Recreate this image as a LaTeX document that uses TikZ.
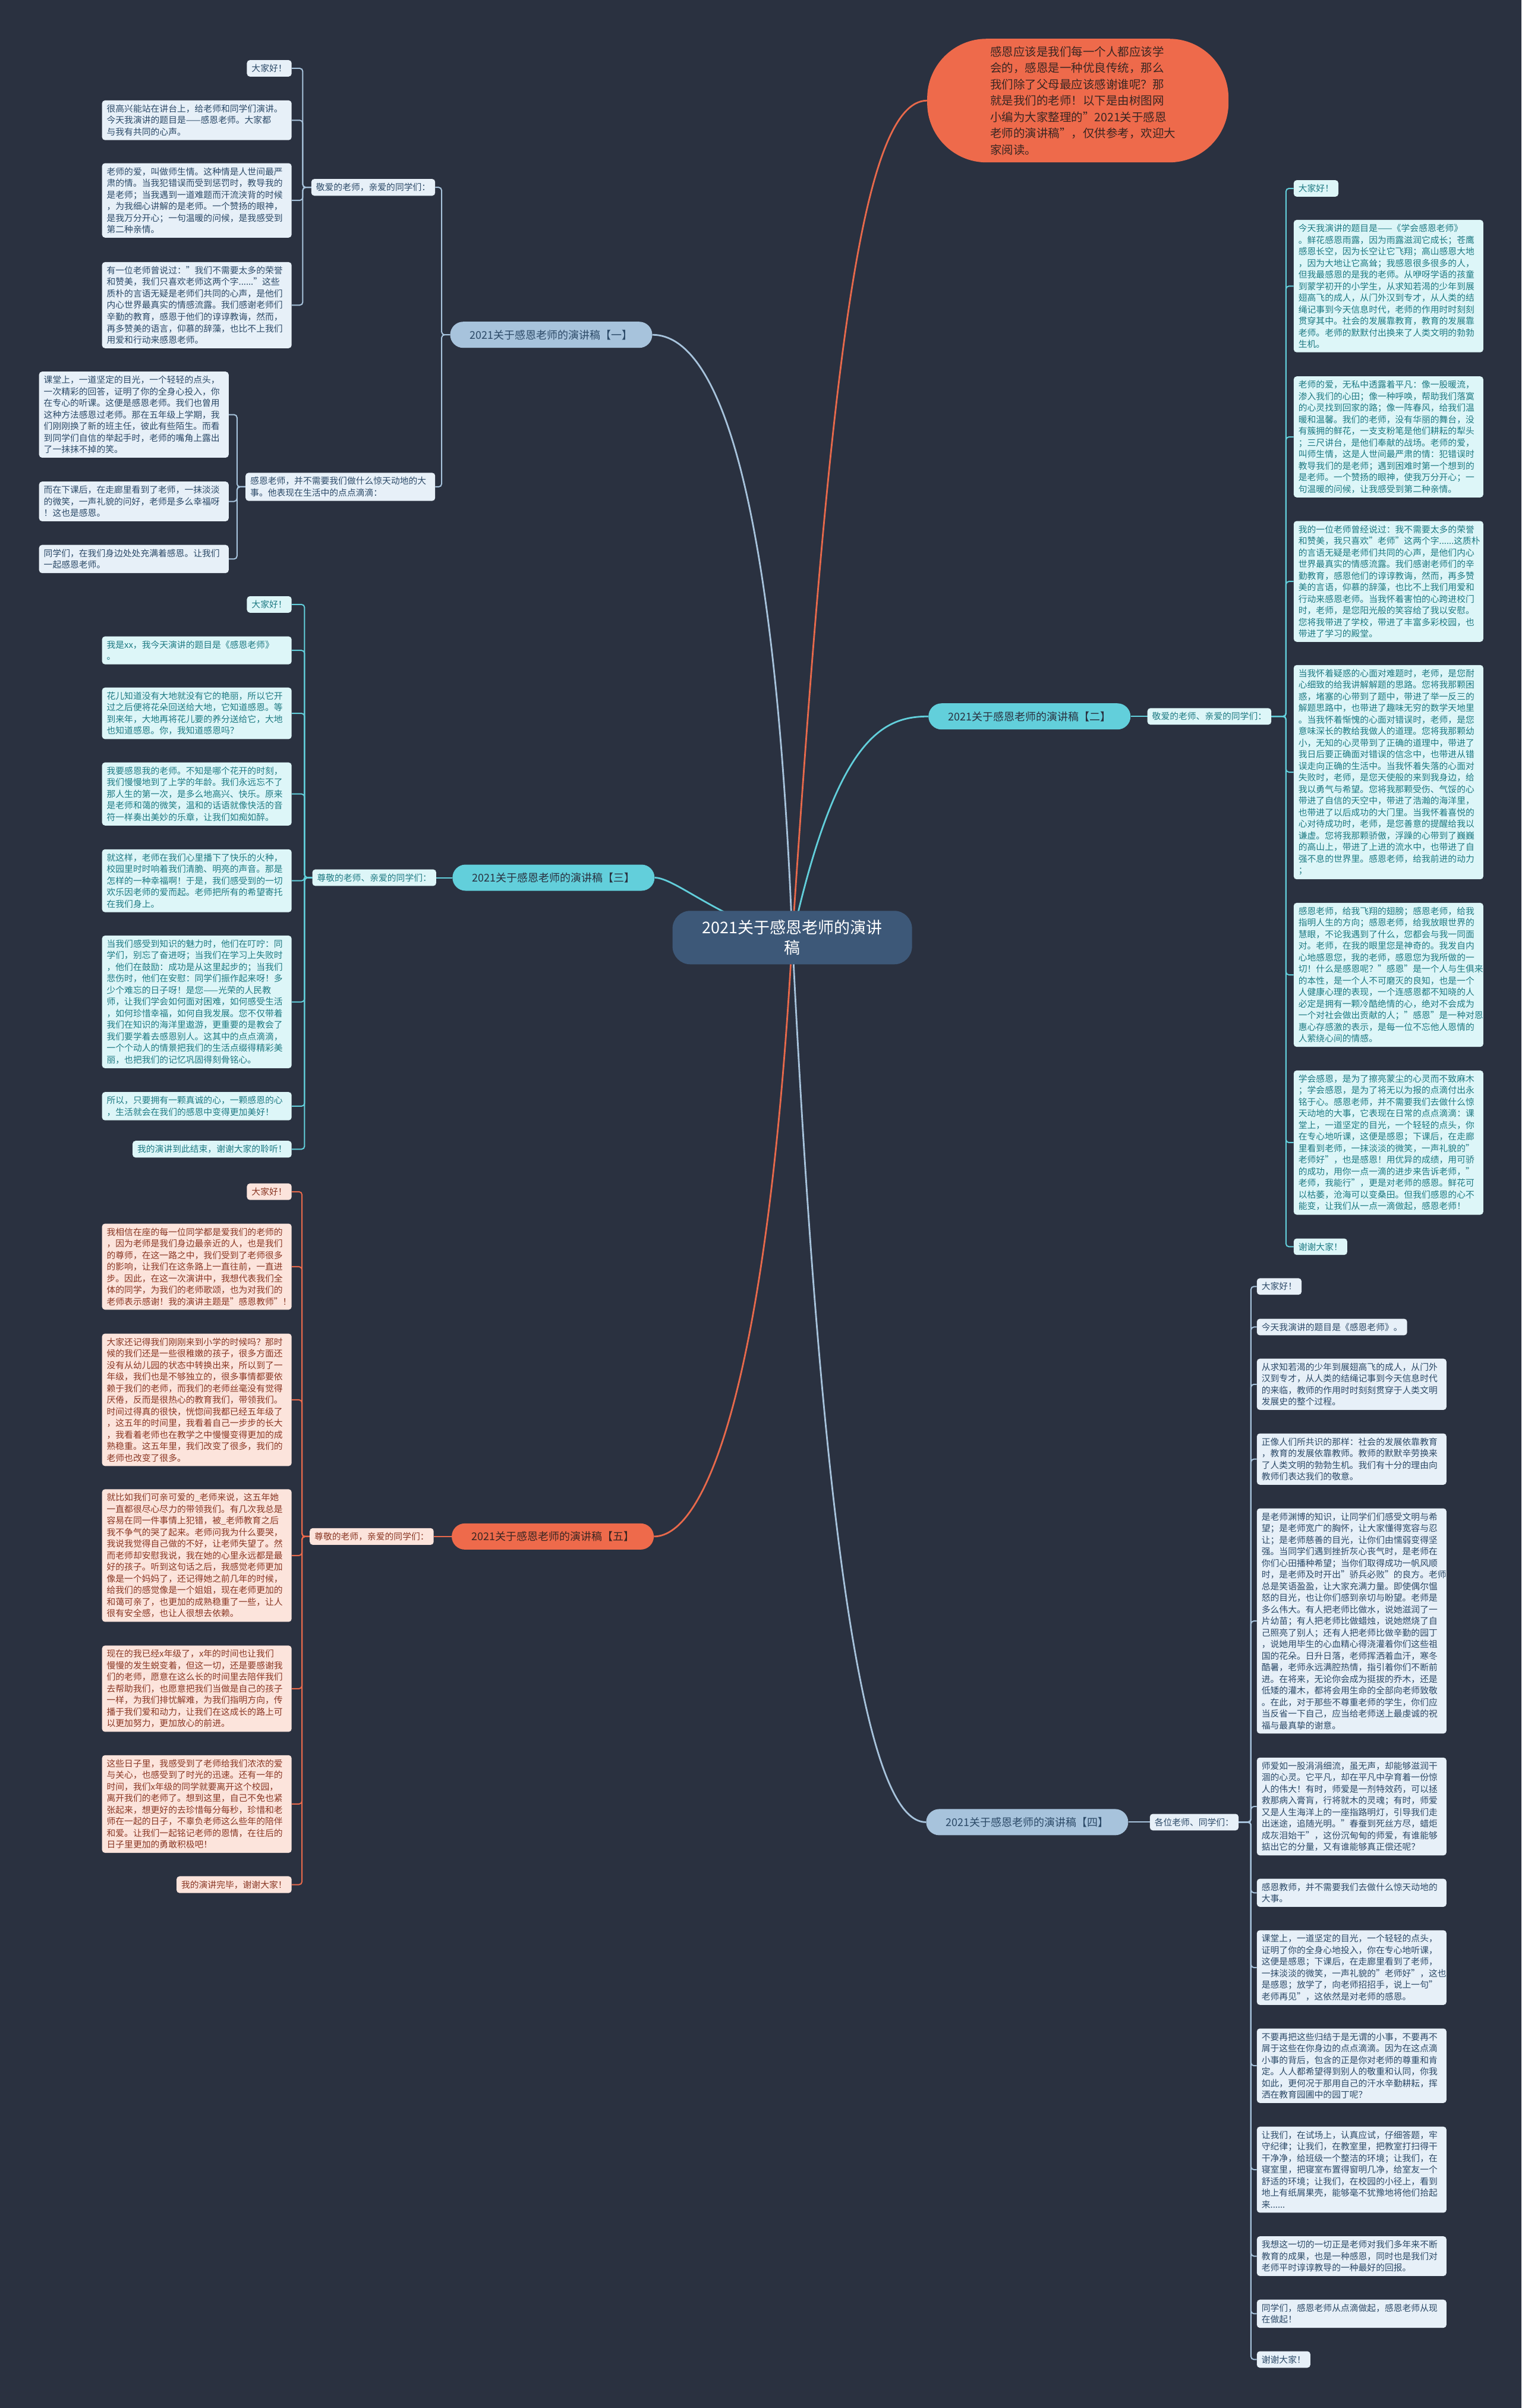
\documentclass[tikz,border=0pt]{standalone}
\usepackage{fontspec}
\setmainfont{Noto Sans CJK SC}
\usetikzlibrary{positioning,backgrounds}
\definecolor{bgnavy}{HTML}{2A3140}
\definecolor{rootfill}{HTML}{3D5878}
\definecolor{introfill}{HTML}{EE6A4B}
\definecolor{introtext}{HTML}{3A2622}
\definecolor{lineblue}{HTML}{A7C3DC}
\definecolor{linecyan}{HTML}{62CFDB}
\definecolor{lineorange}{HTML}{E8694B}
\definecolor{leafblue}{HTML}{E7F0F8}
\definecolor{leafcyan}{HTML}{DDF6F8}
\definecolor{leaforange}{HTML}{FCE4DC}
\definecolor{txtblue}{HTML}{2C4A68}
\definecolor{txtcyan}{HTML}{1E7A83}
\definecolor{txtorange}{HTML}{8A3724}

\begin{document}
\begin{tikzpicture}[x=2.5833pt, y=-2.5833pt,
  every node/.style={inner sep=0pt},
  leafbox/.style={rounded corners=5pt, inner xsep=8pt, inner ysep=7pt, font=\fontsize{14.8}{19.5}\selectfont},
  leaf/.style={leafbox, align=left, text width=303pt},
  lfblue/.style={fill=leafblue, text=txtblue},
  lfcyan/.style={fill=leafcyan, text=txtcyan},
  lforange/.style={fill=leaforange, text=txtorange},
  toleft/.style={anchor=east},
  toright/.style={anchor=west},
  branch/.style={rounded corners=22pt, minimum width=340pt, minimum height=44pt, font=\fontsize{18}{22}\selectfont},
  link/.style={line width=2pt, rounded corners=5pt},
  trunk/.style={line width=2.8pt}]
\useasboundingbox (0,0) rectangle (991,1568);

% centre and intro
\node[fill=rootfill, text=white, rounded corners=30pt, minimum width=403pt, minimum height=90pt, align=center, font=\fontsize{27}{34}\selectfont] (root) at (516,610.5) {2021关于感恩老师的演讲\\稿};
\node[fill=introfill, text=introtext, rounded corners=100pt, minimum width=507pt, minimum height=208pt, align=left, text width=295pt, font=\fontsize{19.5}{27.5}\selectfont] (intro) at (702,65.5)
  {感恩应该是我们每一个人都应该学\\会的，感恩是一种优良传统，那么\\我们除了父母最应该感谢谁呢？那\\就是我们的老师！以下是由树图网\\小编为大家整理的"2021关于感恩\\老师的演讲稿"，仅供参考，欢迎大\\家阅读。};

% branches
\node[branch, fill=lineblue, text=txtblue] (b1) at (359,218) {2021关于感恩老师的演讲稿【一】};
\node[branch, fill=linecyan, text=bgnavy] (b2) at (670.5,466.5) {2021关于感恩老师的演讲稿【二】};
\node[branch, fill=linecyan, text=bgnavy] (b3) at (360.5,571.5) {2021关于感恩老师的演讲稿【三】};
\node[branch, fill=lineblue, text=txtblue] (b4) at (669,1186.5) {2021关于感恩老师的演讲稿【四】};
\node[branch, fill=introfill, text=introtext] (b5) at (360,1000.5) {2021关于感恩老师的演讲稿【五】};

% second level
\node[leafbox, lfblue, toleft] (b1a) at (283.5,122) {敬爱的老师，亲爱的同学们：};
\node[leaf, lfblue, toleft] (b1b) at (283.5,317) {感恩老师，并不需要我们做什么惊天动地的大\\事。他表现在生活中的点点滴滴：};
\node[leafbox, lfcyan, right=28pt of b2] (b2l) {敬爱的老师、亲爱的同学们：};
\node[leafbox, lfcyan, left=27pt of b3] (b3l) {尊敬的老师、亲爱的同学们：};
\node[leafbox, lfblue, right=36pt of b4] (b4l) {各位老师、同学们：};
\node[leafbox, lforange, left=30pt of b5] (b5l) {尊敬的老师，亲爱的同学们：};

% branch one
\node[leafbox, lfblue, toleft] (a1) at (190,44.5) {大家好！};
\node[leaf, lfblue, toleft] (a2) at (190,78.3) {很高兴能站在讲台上，给老师和同学们演讲。\\今天我演讲的题目是——感恩老师。大家都\\与我有共同的心声。};
\node[leaf, lfblue, toleft] (a3) at (190,130.5) {老师的爱，叫做师生情。这种情是人世间最严\\肃的情。当我犯错误而受到惩罚时，教导我的\\是老师；当我遇到一道难题而汗流浃背的时候\\，为我细心讲解的是老师。一个赞扬的眼神，\\是我万分开心；一句温暖的问候，是我感受到\\第二种亲情。};
\node[leaf, lfblue, toleft] (a4) at (190,198.7) {有一位老师曾说过："我们不需要太多的荣誉\\和赞美，我们只喜欢老师这两个字......"这些\\质朴的言语无疑是老师们共同的心声，是他们\\内心世界最真实的情感流露。我们感谢老师们\\辛勤的教育，感恩于他们的谆谆教诲，然而，\\再多赞美的语言，仰慕的辞藻，也比不上我们\\用爱和行动来感恩老师。};
\node[leaf, lfblue, toleft] (c1) at (149,270) {课堂上，一道坚定的目光，一个轻轻的点头，\\一次精彩的回答，证明了你的全身心投入，你\\在专心的听课。这便是感恩老师。我们也曾用\\这种方法感恩过老师。那在五年级上学期，我\\们刚刚换了新的班主任，彼此有些陌生。而看\\到同学们自信的举起手时，老师的嘴角上露出\\了一抹抹不掉的笑。};
\node[leaf, lfblue, toleft] (c2) at (149,326.5) {而在下课后，在走廊里看到了老师，一抹淡淡\\的微笑，一声礼貌的问好，老师是多么幸福呀\\！这也是感恩。};
\node[leaf, lfblue, toleft] (c3) at (149,364) {同学们，在我们身边处处充满着感恩。让我们\\一起感恩老师。};

% branch two
\node[leafbox, lfcyan, toright] (d1) at (842.5,122.7) {大家好！};
\node[leaf, lfcyan, toright] (d2) at (842.5,186.3) {今天我演讲的题目是——《学会感恩老师》\\。鲜花感恩雨露，因为雨露滋润它成长；苍鹰\\感恩长空，因为长空让它飞翔；高山感恩大地\\，因为大地让它高耸；我感恩很多很多的人，\\但我最感恩的是我的老师。从咿呀学语的孩童\\到蒙学初开的小学生，从求知若渴的少年到展\\翅高飞的成人，从门外汉到专才，从人类的结\\绳记事到今天信息时代，老师的作用时时刻刻\\贯穿其中。社会的发展靠教育，教育的发展靠\\老师。老师的默默付出换来了人类文明的勃勃\\生机。};
\node[leaf, lfcyan, toright] (d3) at (842.5,284.5) {老师的爱，无私中透露着平凡：像一股暖流，\\渗入我们的心田；像一种呼唤，帮助我们落寞\\的心灵找到回家的路；像一阵春风，给我们温\\暖和温馨。我们的老师，没有华丽的舞台，没\\有簇拥的鲜花，一支支粉笔是他们耕耘的犁头\\；三尺讲台，是他们奉献的战场。老师的爱，\\叫师生情，这是人世间最严肃的情：犯错误时\\教导我们的是老师；遇到困难时第一个想到的\\是老师。一个赞扬的眼神，使我万分开心；一\\句温暖的问候，让我感受到第二种亲情。};
\node[leaf, lfcyan, toright] (d4) at (842.5,378.6) {我的一位老师曾经说过：我不需要太多的荣誉\\和赞美，我只喜欢"老师"这两个字......这质朴\\的言语无疑是老师们共同的心声，是他们内心\\世界最真实的情感流露。我们感谢老师们的辛\\勤教育，感恩他们的谆谆教诲，然而，再多赞\\美的言语，仰慕的辞藻，也比不上我们用爱和\\行动来感恩老师。当我怀着害怕的心跨进校门\\时，老师，是您阳光般的笑容给了我以安慰。\\您将我带进了学校，带进了丰富多彩校园，也\\带进了学习的殿堂。};
\node[leaf, lfcyan, toright] (d5) at (842.5,502.8) {当我怀着疑惑的心面对难题时，老师，是您耐\\心细致的给我讲解解题的思路。您将我那颗困\\惑，堵塞的心带到了题中，带进了举一反三的\\解题思路中，也带进了趣味无穷的数学天地里\\。当我怀着惭愧的心面对错误时，老师，是您\\意味深长的教给我做人的道理。您将我那颗幼\\小，无知的心灵带到了正确的道理中，带进了\\我日后要正确面对错误的信念中，也带进从错\\误走向正确的生活中。当我怀着失落的心面对\\失败时，老师，是您天使般的来到我身边，给\\我以勇气与希望。您将我那颗受伤、气馁的心\\带进了自信的天空中，带进了浩瀚的海洋里，\\也带进了以后成功的大门里。当我怀着喜悦的\\心对待成功时，老师，是您善意的提醒给我以\\谦虚。您将我那颗骄傲，浮躁的心带到了巍巍\\的高山上，带进了上进的流水中，也带进了自\\强不息的世界里。感恩老师，给我前进的动力\\；};
\node[leaf, lfcyan, toright] (d6) at (842.5,634.8) {感恩老师，给我飞翔的翅膀；感恩老师，给我\\指明人生的方向；感恩老师，给我放眼世界的\\慧眼，不论我遇到了什么，您都会与我一同面\\对。老师，在我的眼里您是神奇的。我发自内\\心地感恩您，我的老师，感恩您为我所做的一\\切！什么是感恩呢？"感恩"是一个人与生俱来\\的本性，是一个人不可磨灭的良知，也是一个\\人健康心理的表现，一个连感恩都不知晓的人\\必定是拥有一颗冷酷绝情的心，绝对不会成为\\一个对社会做出贡献的人；"感恩"是一种对恩\\惠心存感激的表示，是每一位不忘他人恩情的\\人萦绕心间的情感。};
\node[leaf, lfcyan, toright] (d7) at (842.5,744) {学会感恩，是为了擦亮蒙尘的心灵而不致麻木\\；学会感恩，是为了将无以为报的点滴付出永\\铭于心。感恩老师，并不需要我们去做什么惊\\天动地的大事，它表现在日常的点点滴滴：课\\堂上，一道坚定的目光，一个轻轻的点头，你\\在专心地听课，这便是感恩；下课后，在走廊\\里看到老师，一抹淡淡的微笑，一声礼貌的"\\老师好"，也是感恩！用优异的成绩，用可骄\\的成功，用你一点一滴的进步来告诉老师，"\\老师，我能行"，更是对老师的感恩。鲜花可\\以枯萎，沧海可以变桑田。但我们感恩的心不\\能变，让我们从一点一滴做起，感恩老师！};
\node[leafbox, lfcyan, toright] (d8) at (842.5,811.8) {谢谢大家！};

% branch three
\node[leafbox, lfcyan, toleft] (e1) at (190,393.6) {大家好！};
\node[leaf, lfcyan, toleft] (e2) at (190,423.5) {我是xx，我今天演讲的题目是《感恩老师》\\。};
\node[leaf, lfcyan, toleft] (e3) at (190,464.5) {花儿知道没有大地就没有它的艳丽，所以它开\\过之后便将花朵回送给大地，它知道感恩。等\\到来年，大地再将花儿要的养分送给它，大地\\也知道感恩。你，我知道感恩吗？};
\node[leaf, lfcyan, toleft] (e4) at (190,517) {我要感恩我的老师。不知是哪个花开的时刻，\\我们慢慢地到了上学的年龄。我们永远忘不了\\那人生的第一次，是多么地高兴、快乐。原来\\是老师和蔼的微笑，温和的话语就像快活的音\\符一样奏出美妙的乐章，让我们如痴如醉。};
\node[leaf, lfcyan, toleft] (e5) at (190,573.5) {就这样，老师在我们心里播下了快乐的火种，\\校园里时时响着我们清脆、明亮的声音。那是\\怎样的一种幸福啊！于是，我们感受到的一切\\欢乐因老师的爱而起。老师把所有的希望寄托\\在我们身上。};
\node[leaf, lfcyan, toleft] (e6) at (190,652.4) {当我们感受到知识的魅力时，他们在叮咛：同\\学们，别忘了奋进呀；当我们在学习上失败时\\，他们在鼓励：成功是从这里起步的；当我们\\悲伤时，他们在安慰：同学们振作起来呀！多\\少个难忘的日子呀！是您——光荣的人民教\\师，让我们学会如何面对困难，如何感受生活\\，如何珍惜幸福，如何自我发展。您不仅带着\\我们在知识的海洋里遨游，更重要的是教会了\\我们要学着去感恩别人。这其中的点点滴滴，\\一个个动人的情景把我们的生活点缀得精彩美\\丽，也把我们的记忆巩固得刻骨铭心。};
\node[leaf, lfcyan, toleft] (e7) at (190,720.3) {所以，只要拥有一颗真诚的心，一颗感恩的心\\，生活就会在我们的感恩中变得更加美好！};
\node[leafbox, lfcyan, toleft] (e8) at (190,748.3) {我的演讲到此结束，谢谢大家的聆听！};

% branch four
\node[leafbox, lfblue, toright] (f1) at (818.5,837.7) {大家好！};
\node[leafbox, lfblue, toright] (f2) at (818.5,864.1) {今天我演讲的题目是《感恩老师》。};
\node[leaf, lfblue, toright] (f3) at (818.5,901.4) {从求知若渴的少年到展翅高飞的成人，从门外\\汉到专才，从人类的结绳记事到今天信息时代\\的来临，教师的作用时时刻刻贯穿于人类文明\\发展史的整个过程。};
\node[leaf, lfblue, toright] (f4) at (818.5,950.1) {正像人们所共识的那样：社会的发展依靠教育\\，教育的发展依靠教师。教师的默默辛劳换来\\了人类文明的勃勃生机。我们有十分的理由向\\教师们表达我们的敬意。};
\node[leaf, lfblue, toright] (f5) at (818.5,1055.5) {是老师渊博的知识，让同学们们感受文明与希\\望；是老师宽广的胸怀，让大家懂得宽容与忍\\让；是老师慈善的目光，让你们由懦弱变得坚\\强。当同学们遇到挫折灰心丧气时，是老师在\\你们心田播种希望；当你们取得成功一帆风顺\\时，是老师及时开出"骄兵必败"的良方。老师\\总是笑语盈盈，让大家充满力量。即使偶尔愠\\怒的目光，也让你们感到亲切与盼望。老师是\\多么伟大。有人把老师比做水，说她滋润了一\\片幼苗；有人把老师比做蜡烛，说她燃烧了自\\己照亮了别人；还有人把老师比做辛勤的园丁\\，说她用毕生的心血精心得浇灌着你们这些祖\\国的花朵。日升日落，老师挥洒着血汗，寒冬\\酷暑，老师永远满腔热情，指引着你们不断前\\进。在将来，无论你会成为挺拔的乔木，还是\\低矮的灌木，都将会用生命的全部向老师致敬\\。在此，对于那些不尊重老师的学生，你们应\\当反省一下自己，应当给老师送上最虔诚的祝\\福与最真挚的谢意。};
\node[leaf, lfblue, toright] (f6) at (818.5,1176.3) {师爱如一股涓涓细流，虽无声，却能够滋润干\\涸的心灵。它平凡，却在平凡中孕育着一份惊\\人的伟大！有时，师爱是一剂特效药，可以拯\\救那病入膏肓，行将就木的灵魂；有时，师爱\\又是人生海洋上的一座指路明灯，引导我们走\\出迷途，追随光明。"春蚕到死丝方尽，蜡炬\\成灰泪始干"，这份沉甸甸的师爱，有谁能够\\掂出它的分量，又有谁能够真正偿还呢？};
\node[leaf, lfblue, toright] (f7) at (818.5,1232.5) {感恩教师，并不需要我们去做什么惊天动地的\\大事。};
\node[leaf, lfblue, toright] (f8) at (818.5,1281.2) {课堂上，一道坚定的目光，一个轻轻的点头，\\证明了你的全身心地投入，你在专心地听课，\\这便是感恩；下课后，在走廊里看到了老师，\\一抹淡淡的微笑，一声礼貌的"老师好"，这也\\是感恩；放学了，向老师招招手，说上一句"\\老师再见"，这依然是对老师的感恩。};
\node[leaf, lfblue, toright] (f9) at (818.5,1345.1) {不要再把这些归结于是无谓的小事，不要再不\\屑于这些在你身边的点点滴滴。因为在这点滴\\小事的背后，包含的正是你对老师的尊重和肯\\定。人人都希望得到别人的敬重和认同，你我\\如此，更何况于那用自己的汗水辛勤耕耘，挥\\洒在教育园圃中的园丁呢？};
\node[leaf, lfblue, toright] (f10) at (818.5,1412.8) {让我们，在试场上，认真应试，仔细答题，牢\\守纪律；让我们，在教室里，把教室打扫得干\\干净净，给班级一个整洁的环境；让我们，在\\寝室里，把寝室布置得窗明几净，给室友一个\\舒适的环境；让我们，在校园的小径上，看到\\地上有纸屑果壳，能够毫不犹豫地将他们拾起\\来......};
\node[leaf, lfblue, toright] (f11) at (818.5,1469.1) {我想这一切的一切正是老师对我们多年来不断\\教育的成果，也是一种感恩，同时也是我们对\\老师平时谆谆教导的一种最好的回报。};
\node[leaf, lfblue, toright] (f12) at (818.5,1506.6) {同学们，感恩老师从点滴做起，感恩老师从现\\在做起！};
\node[leafbox, lfblue, toright] (f13) at (818.5,1536.4) {谢谢大家！};

% branch five
\node[leafbox, lforange, toleft] (g1) at (190,776) {大家好！};
\node[leaf, lforange, toleft] (g2) at (190,824.8) {我相信在座的每一位同学都是爱我们的老师的\\，因为老师是我们身边最亲近的人，也是我们\\的尊师，在这一路之中，我们受到了老师很多\\的影响，让我们在这条路上一直往前，一直进\\步。因此，在这一次演讲中，我想代表我们全\\体的同学，为我们的老师歌颂，也为对我们的\\老师表示感谢！我的演讲主题是"感恩教师"！};
\node[leaf, lforange, toleft] (g3) at (190,911.5) {大家还记得我们刚刚来到小学的时候吗？那时\\候的我们还是一些很稚嫩的孩子，很多方面还\\没有从幼儿园的状态中转换出来，所以到了一\\年级，我们也是不够独立的，很多事情都要依\\赖于我们的老师，而我们的老师丝毫没有觉得\\厌倦，反而是很热心的教育我们，带领我们。\\时间过得真的很快，恍惚间我都已经五年级了\\，这五年的时间里，我看着自己一步步的长大\\，我看着老师也在教学之中慢慢变得更加的成\\熟稳重。这五年里，我们改变了很多，我们的\\老师也改变了很多。};
\node[leaf, lforange, toleft] (g4) at (190,1012.9) {就比如我们可亲可爱的\_老师来说，这五年她\\一直都很尽心尽力的带领我们。有几次我总是\\容易在同一件事情上犯错，被\_老师教育之后\\我不争气的哭了起来。老师问我为什么要哭，\\我说我觉得自己做的不好，让老师失望了。然\\而老师却安慰我说，我在她的心里永远都是最\\好的孩子。听到这句话之后，我感觉老师更加\\像是一个妈妈了，还记得她之前几年的时候，\\给我们的感觉像是一个姐姐，现在老师更加的\\和蔼可亲了，也更加的成熟稳重了一些，让人\\很有安全感，也让人很想去依赖。};
\node[leaf, lforange, toleft] (g5) at (190,1099.6) {现在的我已经x年级了，x年的时间也让我们\\慢慢的发生蜕变着，但这一切，还是要感谢我\\们的老师，愿意在这么长的时间里去陪伴我们\\去帮助我们，也愿意把我们当做是自己的孩子\\一样，为我们排忧解难，为我们指明方向，传\\播于我们爱和动力，让我们在这成长的路上可\\以更加努力，更加放心的前进。};
\node[leaf, lforange, toleft] (g6) at (190,1174.7) {这些日子里，我感受到了老师给我们浓浓的爱\\与关心，也感受到了时光的迅速。还有一年的\\时间，我们x年级的同学就要离开这个校园，\\离开我们的老师了。想到这里，自己不免也紧\\张起来，想更好的去珍惜每分每秒，珍惜和老\\师在一起的日子，不辜负老师这么些年的陪伴\\和爱。让我们一起铭记老师的恩情，在往后的\\日子里更加的勇敢积极吧！};
\node[leafbox, lforange, toleft] (g7) at (190,1227.2) {我的演讲完毕，谢谢大家！};

% connectors
\begin{scope}[on background layer]
\fill[bgnavy] (0,0) rectangle (991,1568);
\draw[trunk, lineorange] (root.center) .. controls (540,250) and (560,65.5) .. (intro.west);
\draw[trunk, lineblue] (root.center) .. controls (505,330) and (470,218) .. (b1.east);
\draw[trunk, linecyan] (root.center) .. controls (545,480) and (575,466.5) .. (b2.west);
\draw[trunk, linecyan] (root.center) .. controls (470,600) and (440,571.5) .. (b3.east);
\draw[trunk, lineorange] (root.center) .. controls (500,900) and (460,1000.5) .. (b5.east);
\draw[trunk, lineblue] (root.center) .. controls (540,1100) and (575,1186.5) .. (b4.west);
\draw[link, linecyan] (b2.east) -- (b2l.west);
\draw[link, linecyan] (b3.west) -- (b3l.east);
\draw[link, lineblue] (b4.east) -- (b4l.west);
\draw[link, lineorange] (b5.west) -- (b5l.east);
\foreach \n in {b1a,b1b} \draw[link, lineblue] (b1.west) -- ++(-5.5,0) |- (\n.east);
\foreach \n in {a1,a2,a3,a4} \draw[link, lineblue] (b1a.west) -- ++(-5.5,0) |- (\n.east);
\foreach \n in {c1,c2,c3} \draw[link, lineblue] (b1b.west) -- ++(-5.5,0) |- (\n.east);
\foreach \n in {d1,d2,d3,d4,d5,d6,d7,d8} \draw[link, linecyan] (b2l.east) -- ++(9.5,0) |- (\n.west);
\foreach \n in {e1,e2,e3,e4,e5,e6,e7,e8} \draw[link, linecyan] (b3l.west) -- ++(-5,0) |- (\n.east);
\foreach \n in {f1,f2,f3,f4,f5,f6,f7,f8,f9,f10,f11,f12,f13} \draw[link, lineblue] (b4l.east) -- ++(8,0) |- (\n.west);
\foreach \n in {g1,g2,g3,g4,g5,g6,g7} \draw[link, lineorange] (b5l.west) -- ++(-5,0) |- (\n.east);
\end{scope}
\end{tikzpicture}
\end{document}
